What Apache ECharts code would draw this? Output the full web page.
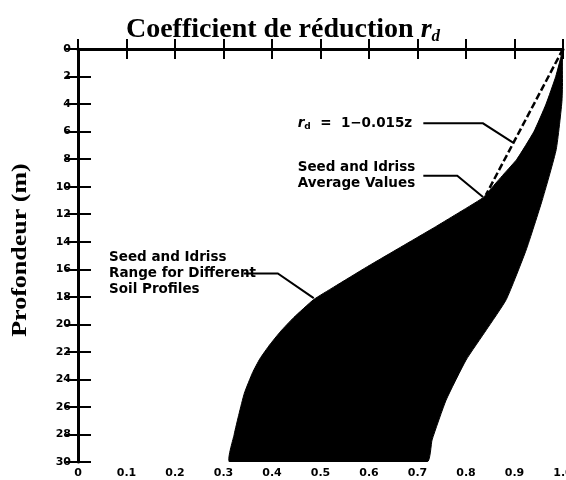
<!DOCTYPE html>
<html>
<head>
<meta charset="utf-8">
<script src="https://cdn.jsdelivr.net/npm/echarts@6/dist/echarts.min.js"></script>
<style>
  html, body { margin: 0; padding: 0; background: #ffffff; }
  #chart { width: 566px; height: 480px; }
</style>
</head>
<body>
<div id="chart"></div>
<script>
// Axis ticks: depth in metres, reduction factor r_d
const depthTicks = [0, 2, 4, 6, 8, 10, 12, 14, 16, 18, 20, 22, 24, 26, 28, 30];
const rdTicks = [0, 0.1, 0.2, 0.3, 0.4, 0.5, 0.6, 0.7, 0.8, 0.9, 1.0];

// Seed & Idriss range: lower limit of r_d versus depth
const lowerDepth = [0, 2, 4, 6, 8, 9, 10, 10.8, 12, 13, 14.4, 15.8, 17.3, 18.2, 19.5, 20.5, 21.5, 22.5, 23.5, 25, 26.5, 28, 30];
const lowerRd = [1.0, 0.985, 0.965, 0.94, 0.905, 0.88, 0.855, 0.835, 0.78, 0.733, 0.665, 0.597, 0.527, 0.486, 0.445, 0.418, 0.395, 0.375, 0.36, 0.343, 0.332, 0.322, 0.313];

// Seed & Idriss range: upper limit of r_d versus depth
const upperDepth = [0, 3.7, 7.3, 11.0, 14.6, 18.2, 20.4, 22.6, 25.5, 28.4, 30];
const upperRd = [1.0, 0.998, 0.986, 0.957, 0.924, 0.883, 0.842, 0.8, 0.759, 0.73, 0.72];

// Linear law r_d = 1 - 0.015 z, drawn over the upper depths
const linearCoef = 0.015;
const linearDepths = [0, 10.6];

// Callout texts with their anchor points [r_d, depth]
const calloutLinear = { text: '{i|r}{s|d}{n|  =  1−0.015z}', at: [0.453, 5.4], leader: [[0.712, 5.4], [0.835, 5.4], [0.897, 6.8]] };
const calloutAverage = { text: 'Seed and Idriss\nAverage Values', at: [0.453, 9.2], leader: [[0.712, 9.2], [0.782, 9.2], [0.835, 10.75]] };
const calloutRange = { text: 'Seed and Idriss\nRange for Different\nSoil Profiles', at: [0.064, 16.3], leader: [[0.342, 16.3], [0.412, 16.3], [0.486, 18.1]] };

const chart = echarts.init(document.getElementById('chart'), null, { renderer: 'canvas' });

const tickFont = { fontFamily: 'DejaVu Sans', fontWeight: 'bold', fontSize: 11, color: '#000' };
const rdStep = +(rdTicks[1] - rdTicks[0]).toFixed(3);
const depthStep = depthTicks[1] - depthTicks[0];

function rdLabel(v) {
  return Math.abs(v) < 1e-9 ? '0' : v.toFixed(1);
}

const rangePoints = lowerRd.map((r, i) => [r, lowerDepth[i]])
  .concat(upperRd.map((r, i) => [r, upperDepth[i]]).reverse());

const linearLine = linearDepths.map(z => [1 - linearCoef * z, z]);

chart.setOption({
  animation: false,
  backgroundColor: '#ffffff',
  title: {
    text: 'Coefficient de réduction {s|r}{d|d}',
    left: 'center',
    top: 9,
    textStyle: {
      fontFamily: 'Liberation Serif',
      fontWeight: 'bold',
      fontSize: 28,
      color: '#000',
      rich: {
        s: { fontFamily: 'Liberation Serif', fontWeight: 'bold', fontStyle: 'italic', fontSize: 28, color: '#000' },
        d: { fontFamily: 'Liberation Serif', fontWeight: 'bold', fontStyle: 'italic', fontSize: 17, color: '#000', padding: [14, 0, 0, 0] }
      }
    }
  },
  grid: { left: 78, right: 3, top: 49, bottom: 18, containLabel: false, outerBoundsMode: 'none' },
  xAxis: [
    {
      type: 'value', position: 'bottom',
      min: rdTicks[0], max: rdTicks[rdTicks.length - 1], interval: rdStep,
      axisLine: { lineStyle: { color: '#000', width: 2 } },
      axisTick: { inside: true, length: 10, lineStyle: { color: '#000', width: 2 } },
      axisLabel: Object.assign({ margin: 6, formatter: rdLabel, hideOverlap: false }, tickFont),
      splitLine: { show: false }
    },
    {
      type: 'value', position: 'top',
      min: rdTicks[0], max: rdTicks[rdTicks.length - 1], interval: rdStep,
      axisLine: { lineStyle: { color: '#000', width: 3 } },
      axisTick: { inside: true, length: 10, lineStyle: { color: '#000', width: 2 } },
      axisLabel: { show: false },
      splitLine: { show: false }
    }
  ],
  yAxis: [
    {
      type: 'value', position: 'left', inverse: true,
      min: depthTicks[0], max: depthTicks[depthTicks.length - 1], interval: depthStep,
      axisLine: { lineStyle: { color: '#000', width: 3 } },
      axisTick: { inside: true, length: 13, lineStyle: { color: '#000', width: 2 } },
      axisLabel: Object.assign({ margin: 7 }, tickFont),
      splitLine: { show: false }
    },
    {
      type: 'value', position: 'right', inverse: true,
      min: depthTicks[0], max: depthTicks[depthTicks.length - 1], interval: depthStep,
      axisLine: { lineStyle: { color: '#000', width: 2 } },
      axisTick: { inside: true, length: 12, lineStyle: { color: '#000', width: 2 } },
      axisLabel: { show: false },
      splitLine: { show: false }
    }
  ],
  series: [
    {
      name: 'Range',
      type: 'custom',
      xAxisIndex: 0, yAxisIndex: 0,
      data: [[rangePoints[0][0], rangePoints[0][1]]],
      renderItem: function (params, api) {
        const pts = rangePoints.map(p => api.coord(p));
        return { type: 'polygon', shape: { points: pts, smooth: 0.15 }, style: { fill: '#000', stroke: '#000', lineWidth: 1 } };
      },
      clip: true,
      z: 2
    },
    {
      name: 'Linear',
      type: 'line',
      xAxisIndex: 0, yAxisIndex: 0,
      data: linearLine,
      symbol: 'none',
      lineStyle: { color: '#000', width: 2.5, type: [7, 3] },
      z: 3
    }
  ]
});

// Callouts placed from data coordinates
function px(p) { return chart.convertToPixel({ xAxisIndex: 0, yAxisIndex: 0 }, p); }

const calloutFont = { fontFamily: 'DejaVu Sans', fontWeight: 'bold', fontSize: 13.5, fill: '#000' };
const graphics = [];
[calloutLinear, calloutAverage, calloutRange].forEach(function (c) {
  const a = px(c.at);
  graphics.push({
    type: 'text', x: a[0], y: a[1],
    style: Object.assign({
      text: c.text, textVerticalAlign: 'middle', lineHeight: 16,
      rich: {
        i: { fontFamily: 'DejaVu Sans', fontWeight: 'bold', fontStyle: 'italic', fontSize: 13.5 },
        s: { fontFamily: 'DejaVu Sans', fontWeight: 'bold', fontSize: 9, padding: [6, 0, 0, 0] },
        n: { fontFamily: 'DejaVu Sans', fontWeight: 'bold', fontSize: 13.5 }
      }
    }, calloutFont),
    z: 10
  });
  graphics.push({
    type: 'polyline', shape: { points: c.leader.map(px) },
    style: { stroke: '#000', lineWidth: 2, fill: null },
    z: 10
  });
});

// Vertical axis title
graphics.push({
  type: 'text', x: 21, y: 250, rotation: Math.PI / 2, scaleX: 1.3,
  style: {
    text: 'Profondeur (m)', fontFamily: 'Liberation Serif', fontWeight: 'bold', fontSize: 20,
    fill: '#000', textAlign: 'center', textVerticalAlign: 'middle'
  },
  z: 10
});

chart.setOption({ graphic: graphics });
</script>
</body>
</html>
